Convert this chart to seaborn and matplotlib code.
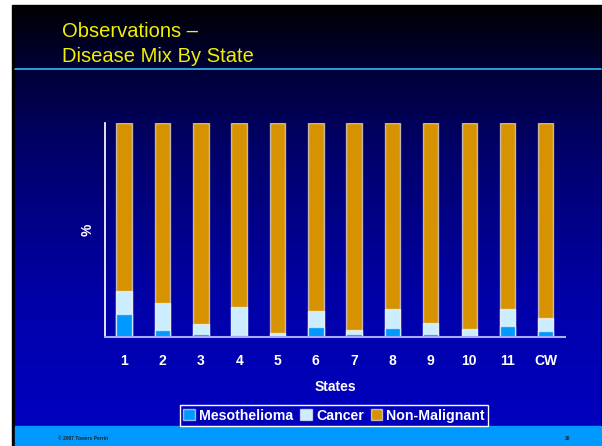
import numpy as np
import pandas as pd
import seaborn as sns
import matplotlib.pyplot as plt
from matplotlib.patches import Rectangle, Patch

states = ["1", "2", "3", "4", "5", "6", "7", "8", "9", "10", "11", "CW"]
mesothelioma = [10.7, 3.1, 1.3, 1.0, 0.5, 4.5, 1.3, 4.0, 1.3, 0.6, 5.0, 2.6]
cancer = [10.8, 12.6, 4.7, 13.0, 1.5, 7.8, 2.0, 9.0, 5.2, 3.3, 8.0, 6.3]
non_malignant = [78.5, 84.3, 94.0, 86.0, 98.0, 87.7, 96.7, 87.0, 93.5, 96.1, 87.0, 91.1]

MESO = "#0099FF"
CANC = "#CCECFF"
NONM = "#D69200"

sns.set_theme(style="ticks")
plt.rcParams["font.family"] = ["Liberation Sans", "DejaVu Sans"]

df = pd.DataFrame({"State": states, "Mesothelioma": mesothelioma,
                   "Cancer": cancer, "Non-Malignant": non_malignant})
df["c1"] = df["Mesothelioma"]
df["c2"] = df["c1"] + df["Cancer"]
df["c3"] = df["c2"] + df["Non-Malignant"]

fig = plt.figure(figsize=(6.02, 4.46), dpi=100)
fig.patch.set_facecolor("white")

# slide background, drawn in pixel coordinates
bg = fig.add_axes([0, 0, 1, 1], zorder=-5)
bg.axis("off")
bg.add_patch(Rectangle((12, 5), 590, 441, color="black", zorder=1))
ys = np.linspace(0, 1, 256)
stops = [0.0, 0.15, 0.35, 0.7, 1.0]
blues = [0.02, 0.22, 0.42, 0.66, 0.75]
col = np.interp(ys, stops, blues)
grad = np.zeros((256, 1, 3))
grad[:, 0, 2] = col
bg.imshow(grad, extent=(15, 601, 426, 7), aspect="auto",
          interpolation="bilinear", zorder=2)
bg.add_patch(Rectangle((15, 426), 586, 20, color="#0099FF", zorder=3))
bg.plot([15, 601], [69, 69], color="#33BBEE", lw=1.2, zorder=4)
bg.text(62, 37, "Observations \u2013", color="#F0F000", fontsize=14.5, zorder=5)
bg.text(62, 62, "Disease Mix By State", color="#F0F000", fontsize=14.5, zorder=5)
bg.text(58, 438, "\u00a9 2007 Towers Perrin", color="#222222", fontsize=3.5,
        fontweight="bold", va="center", zorder=5)
bg.text(565, 438, "26", color="#222222", fontsize=3.5, fontweight="bold",
        va="center", zorder=5)
bg.set_xlim(0, 602)
bg.set_ylim(446, 0)

ax = fig.add_axes([105 / 602, 109 / 446, 460 / 602, 214 / 446])
ax.set_facecolor("none")
edge = (1, 1, 1, 0.6)
for c, colr in [("c3", NONM), ("c2", CANC), ("c1", MESO)]:
    sns.barplot(data=df, x="State", y=c, color=colr, saturation=1, width=0.4,
                edgecolor=edge, linewidth=1, ax=ax)
ax.set_ylim(0, 100)
ax.set_xlim(-0.5, 11.5)
ax.set_yticks([])
ax.tick_params(axis="x", length=0, pad=12, labelcolor="white", labelsize=10)
for t in ax.get_xticklabels():
    t.set_fontweight("bold")
ax.set_xlabel("States", color="white", fontsize=10, fontweight="bold")
ax.xaxis.set_label_coords(0.5, -0.2)
ax.set_ylabel("%", color="white", fontsize=10, fontweight="bold")
ax.yaxis.set_label_coords(-0.022, 0.5)
sns.despine(ax=ax)
ax.spines["left"].set_color("white")
ax.spines["bottom"].set_color("#AAAAFF")
ax.spines["bottom"].set_linewidth(1.5)

handles = [Patch(facecolor=MESO, edgecolor=edge, label="Mesothelioma"),
           Patch(facecolor=CANC, edgecolor=edge, label="Cancer"),
           Patch(facecolor=NONM, edgecolor=edge, label="Non-Malignant")]
leg = fig.legend(handles=handles, loc="center", bbox_to_anchor=(0.555, 0.068),
                 ncol=3, frameon=True, fancybox=False, handlelength=0.8,
                 handleheight=0.8, handletextpad=0.3, columnspacing=0.5,
                 borderpad=0.25, borderaxespad=0,
                 prop={"weight": "bold", "size": 10.2})
leg.get_frame().set_facecolor("#0000BB")
leg.get_frame().set_edgecolor("white")
leg.get_frame().set_alpha(1)
for t in leg.get_texts():
    t.set_color("white")

fig.savefig("out.png", dpi=100)
